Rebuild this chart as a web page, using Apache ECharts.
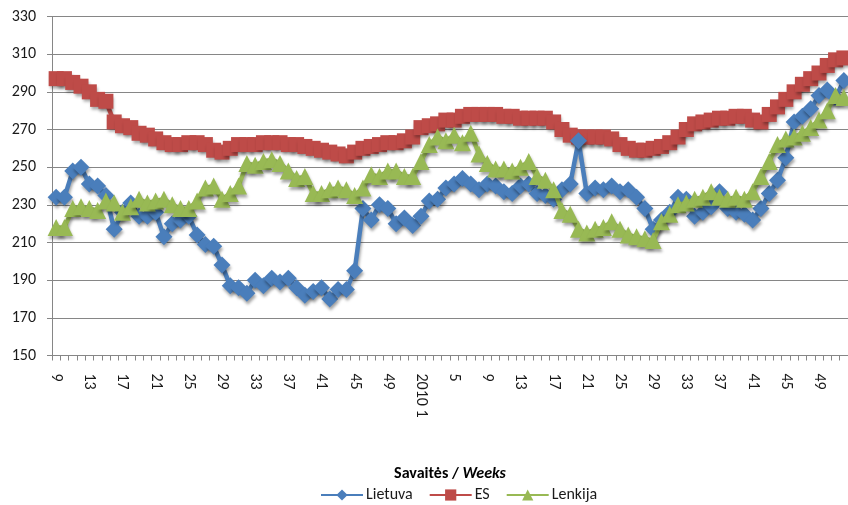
<!DOCTYPE html>
<html>
<head>
<meta charset="utf-8">
<script src="https://cdn.jsdelivr.net/npm/echarts@6/dist/echarts.min.js"></script>
<style>
html,body{margin:0;padding:0;background:#fff;}
#c{width:848px;height:505px;}
</style>
</head>
<body>
<div id="c"></div>
<script>
var weeks2009 = [9,10,11,12,13,14,15,16,17,18,19,20,21,22,23,24,25,26,27,28,29,30,31,32,33,34,35,36,37,38,39,40,41,42,43,44,45,46,47,48,49,50,51,52];
var weeks2010 = [1,2,3,4,5,6,7,8,9,10,11,12,13,14,15,16,17,18,19,20,21,22,23,24,25,26,27,28,29,30,31,32,33,34,35,36,37,38,39,40,41,42,43,44,45,46,47,48,49,50,51,52];

var lietuva = [234,234,248,250,241,240,235,217,226,231,224,224,226,213,220,222,224,214,209,208,198,187,186,183,
  190,187,191,189,191,186,182,184,186,180,185,185,195,228,222,230,228,220,223,219,224,232,233,239,
  241,244,241,238,241,240,237,236,240,241,236,235,233,238,241,264,236,239,238,240,237,238,234,228,
  217,222,226,234,233,224,226,229,237,228,226,225,222,228,236,243,255,274,277,281,288,291,287,296];
var es = [297,297,295,293,290,286,285,274,272,271,268,267,265,263,262,262,263,263,262,259,258,260,262,262,
  262,263,263,263,262,262,261,260,259,258,257,256,258,260,261,262,263,263,264,266,271,272,273,275,
  275,277,278,278,278,278,277,277,276,276,276,276,274,270,267,266,266,266,266,265,262,260,259,259,
  260,261,263,266,270,273,274,275,276,276,277,277,275,274,278,282,286,290,294,297,300,304,307,308];
var lenkija = [218,218,228,229,228,227,232,231,226,229,233,231,232,233,230,228,228,232,239,240,233,236,240,252,
  251,253,254,252,248,244,245,236,236,238,239,238,235,239,246,245,248,248,245,245,253,262,266,264,
  267,263,268,257,252,249,249,248,250,253,245,243,238,227,225,217,215,217,218,221,217,214,213,212,
  211,221,225,230,231,233,234,237,234,233,234,233,237,245,253,262,265,266,268,271,275,280,288,287];

var seriesNames = ['Lietuva','ES','Lenkija'];
var yTicks = {min:150, max:330, step:20};

var categories = weeks2009.map(function(w){return '2009-' + w;})
  .concat(weeks2010.map(function(w){return '2010-' + w;}));

var FONT = 'Carlito, Lato, "Liberation Sans", sans-serif';
var shadow = {shadowColor:'rgba(0,0,0,0.35)', shadowBlur:3, shadowOffsetX:1, shadowOffsetY:3};

function mk(name, data, color, symbol, size, z){
  return {
    name:name, type:'line', data:data, z:z,
    symbol:symbol, symbolSize:size, showSymbol:true, showAllSymbol:true,
    animation:false,
    lineStyle:Object.assign({color:color, width:4.5}, shadow),
    itemStyle:Object.assign({color:color, borderWidth:0}, shadow)
  };
}

var chart = echarts.init(document.getElementById('c'), null, {renderer:'canvas'});
chart.setOption({
  animation:false,
  backgroundColor:'#ffffff',
  grid:{left:52, top:16.5, width:800, height:339, containLabel:false},
  xAxis:{
    type:'category', data:categories, boundaryGap:true,
    axisLine:{lineStyle:{color:'#868686', width:1}},
    axisTick:{show:true, interval:0, length:5, lineStyle:{color:'#868686'}},
    axisLabel:{
      interval:3, rotate:-90, margin:18, color:'#1a1a1a', fontSize:16, fontFamily:FONT,
      formatter:function(v){ return v === '2010-1' ? '2010 1' : v.split('-')[1]; }
    },
    name:'{b|Savaitės / }{bi|Weeks}', nameLocation:'middle', nameGap:110,
    nameTextStyle:{rich:{
      b:{fontWeight:'bold', fontSize:16, fontFamily:FONT, color:'#000'},
      bi:{fontWeight:'bold', fontStyle:'italic', fontSize:16, fontFamily:FONT, color:'#000'}
    }}
  },
  yAxis:{
    type:'value', min:yTicks.min, max:yTicks.max, interval:yTicks.step,
    axisLine:{show:true, lineStyle:{color:'#868686'}},
    axisTick:{show:true, length:5, lineStyle:{color:'#868686'}},
    splitLine:{show:true, lineStyle:{color:'#868686', width:1}},
    axisLabel:{color:'#1a1a1a', fontSize:16, fontFamily:FONT, margin:16}
  },
  legend:{
    top:482, left:315, itemWidth:42, itemHeight:14, itemGap:16,
    textStyle:{fontSize:16, fontFamily:FONT, color:'#1a1a1a', padding:[0,0,0,-2]},
    data:seriesNames
  },
  series:[
    mk(seriesNames[0], lietuva, '#4A7EBB', 'diamond', 17, 3),
    mk(seriesNames[1], es, '#BE4B48', 'rect', 15, 2),
    mk(seriesNames[2], lenkija, '#98B954', 'triangle', 17, 4)
  ]
});
</script>
</body>
</html>
